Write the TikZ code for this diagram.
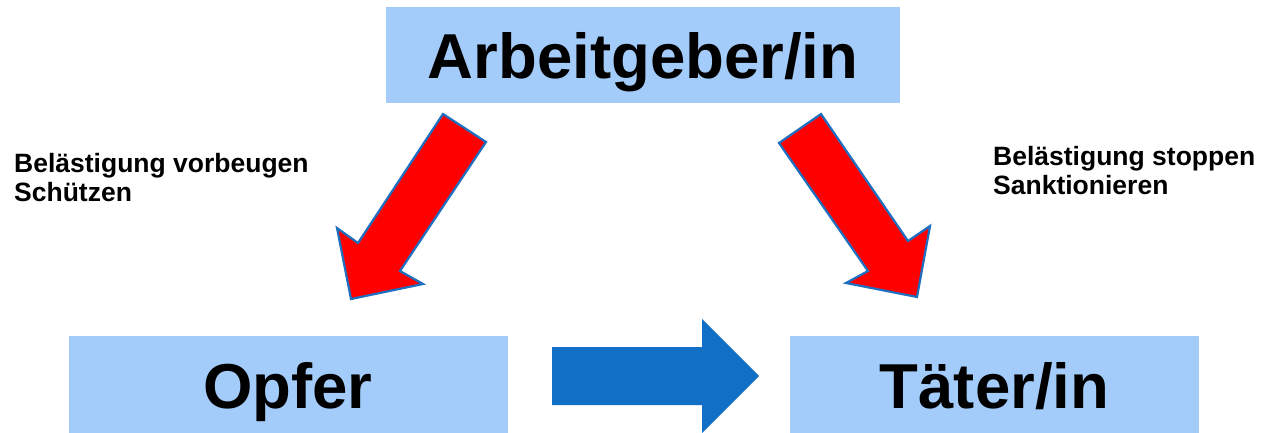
\documentclass[tikz,border=0pt]{standalone}
\usepackage{fontspec}
\setmainfont{Liberation Sans}
\definecolor{boxblue}{RGB}{164,204,250}
\definecolor{arrowblue}{RGB}{17,112,198}
\definecolor{rimblue}{RGB}{31,111,192}
\begin{document}
\begin{tikzpicture}[
    x=1pt, y=-1pt,
    rolebox/.style={
      fill=boxblue,
      minimum width=#1,
      minimum height=96pt,
      inner sep=0pt,
      text height=48pt,
      text depth=0pt,
      font=\fontsize{63.5}{63.5}\selectfont\bfseries
    },
    dutytext/.style={
      align=left,
      anchor=base west,
      inner sep=0pt,
      font=\fontsize{26.5}{29.5}\selectfont\bfseries
    },
    redarrow/.style={
      fill=red,
      draw=rimblue,
      line width=2.2pt,
      line join=miter
    }
  ]
    \useasboundingbox (0,0) rectangle (1262,433);

    % Roles
    \node[rolebox=514pt] (employer) at (643,55) {Arbeitgeber/in};
    \node[rolebox=439pt, minimum height=97pt] (victim) at (288,384.5) {Opfer};
    \node[rolebox=409pt, minimum height=97pt] (offender) at (994.5,384.5) {Täter/in};

    % Duties
    \node[dutytext] (protect) at (14,202) {Belästigung vorbeugen\\Schützen};
    \node[dutytext] (sanction) at (993,195) {Belästigung stoppen\\Sanktionieren};

    % Arrow to victim
    \filldraw[redarrow] (443,114) -- (486,142) -- (400,271) -- (423,284)
      -- (351,299) -- (337,228) -- (358,243) -- cycle;

    % Arrow to offender
    \filldraw[redarrow] (779,143) -- (821,114) -- (908,241) -- (930,226)
      -- (917,297) -- (846,283) -- (868,271) -- cycle;

    % Victim to offender
    \fill[arrowblue] (552,347) -- (702,347) -- (702,319) -- (759,376)
      -- (702,433) -- (702,405) -- (552,405) -- cycle;
\end{tikzpicture}
\end{document}
